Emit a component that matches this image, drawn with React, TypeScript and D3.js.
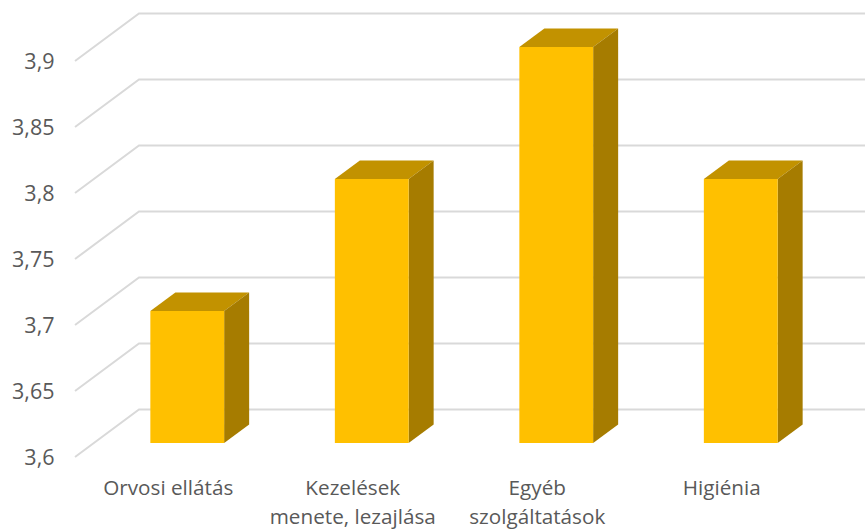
import React from "react";
import * as d3 from "d3";

const categories = [
  ["Orvosi ellátás"],
  ["Kezelések", "menete, lezajlása"],
  ["Egyéb", "szolgáltatások"],
  ["Higiénia"],
];
const values = [3.7, 3.8, 3.9, 3.8];
const ticks = [3.6, 3.65, 3.7, 3.75, 3.8, 3.85, 3.9];
const tickLabels = ["3,6", "3,65", "3,7", "3,75", "3,8", "3,85", "3,9"];

const width = 865;
const height = 529;

const App: React.FC = () => {
  // y is the back wall, the other planes are shifted from it
  const y = d3.scaleLinear().domain([3.6, 3.9]).range([409.5, 13.5]);
  const x = d3
    .scaleBand<number>()
    .domain(d3.range(categories.length))
    .range([75, 813])
    .paddingInner(0.6)
    .paddingOuter(0.3);

  const wallDx = 64;
  const wallDy = 47.5;
  const barDx = 20;
  const barDy = 33.5;
  const depthX = 25;
  const depthY = 18.5;

  const font = "'Open Sans', sans-serif";
  const textColor = "#595959";

  return (
    <svg
      width={width}
      height={height}
      style={{ position: "absolute", left: 0, top: 0, background: "#fff" }}
    >
      {/* Rácsvonalak */}
      {ticks.map((t) => (
        <polyline
          key={t}
          points={`75,${y(t) + wallDy} ${75 + wallDx},${y(t)} ${width},${y(t)}`}
          fill="none"
          stroke="#d9d9d9"
          strokeWidth={2}
        />
      ))}

      {/* Tengelyfeliratok */}
      {ticks.map((t, i) => (
        <text
          key={t}
          x={54.5}
          y={y(t) + wallDy + 2.5}
          textAnchor="end"
          dominantBaseline="middle"
          fontFamily={font}
          fontSize={21.5}
          fill={textColor}
        >
          {tickLabels[i]}
        </text>
      ))}

      {/* Oszlopok */}
      {values.map((v, i) => {
        const x0 = (x(i) as number) + barDx;
        const x1 = x0 + x.bandwidth();
        const top = y(v) + barDy;
        const bottom = y(3.6) + barDy;
        return (
          <g key={i}>
            <polygon
              points={`${x0},${top} ${x0 + depthX},${top - depthY} ${x1 + depthX},${top - depthY} ${x1},${top}`}
              fill="#c29200"
            />
            <polygon
              points={`${x1},${top} ${x1 + depthX},${top - depthY} ${x1 + depthX},${bottom - depthY} ${x1},${bottom}`}
              fill="#a67c00"
            />
            <rect x={x0} y={top} width={x.bandwidth()} height={bottom - top} fill="#ffc000" />
          </g>
        );
      })}

      {/* Kategóriák */}
      {categories.map((lines, i) => (
        <text
          key={i}
          textAnchor="middle"
          fontFamily={font}
          fontSize={20.7}
          fill={textColor}
        >
          {lines.map((line, j) => (
            <tspan key={j} x={(x(i) as number) + x.bandwidth() / 2 + 1} y={495 + j * 29}>
              {line}
            </tspan>
          ))}
        </text>
      ))}
    </svg>
  );
};

export default App;
